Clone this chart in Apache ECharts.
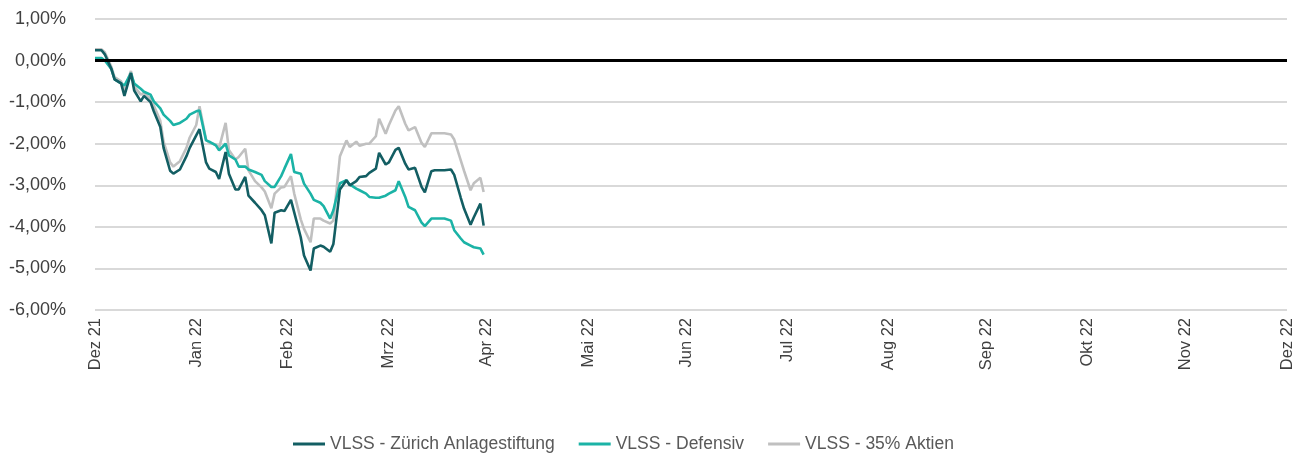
<!DOCTYPE html>
<html>
<head>
<meta charset="utf-8">
<script src="https://cdn.jsdelivr.net/npm/echarts@6/dist/echarts.min.js"></script>
<style>
html, body { margin: 0; padding: 0; background: #fff; }
#chart { width: 1302px; height: 454px; }
</style>
</head>
<body>
<div id="chart"></div>
<script>
// Stichtage
var dates = ['2021-12-31', '2022-01-02', '2022-01-03', '2022-01-05', '2022-01-06', '2022-01-08', '2022-01-09', '2022-01-11', '2022-01-12', '2022-01-14',
    '2022-01-15', '2022-01-17', '2022-01-18', '2022-01-20', '2022-01-21', '2022-01-23', '2022-01-24', '2022-01-26', '2022-01-28', '2022-01-29',
    '2022-01-31', '2022-02-01', '2022-02-03', '2022-02-04', '2022-02-06', '2022-02-07', '2022-02-09', '2022-02-10', '2022-02-12', '2022-02-13',
    '2022-02-15', '2022-02-16', '2022-02-18', '2022-02-20', '2022-02-21', '2022-02-23', '2022-02-24', '2022-02-26', '2022-02-27', '2022-03-01',
    '2022-03-02', '2022-03-04', '2022-03-05', '2022-03-07', '2022-03-08', '2022-03-10', '2022-03-11', '2022-03-13', '2022-03-14', '2022-03-16',
    '2022-03-18', '2022-03-19', '2022-03-21', '2022-03-22', '2022-03-24', '2022-03-25', '2022-03-27', '2022-03-28', '2022-03-30', '2022-03-31',
    '2022-04-02', '2022-04-03', '2022-04-05', '2022-04-06', '2022-04-08', '2022-04-10', '2022-04-11', '2022-04-13', '2022-04-14', '2022-04-16',
    '2022-04-17', '2022-04-19', '2022-04-20', '2022-04-22', '2022-04-23', '2022-04-25', '2022-04-26', '2022-04-28', '2022-04-29'];

var zurich = [0.25, 0.25, 0.15, -0.2, -0.45, -0.55, -0.85, -0.3, -0.72, -0.98,
    -0.85, -1.0, -1.22, -1.6, -2.1, -2.65, -2.72, -2.62, -2.3, -2.1,
    -1.8, -1.65, -2.45, -2.6, -2.68, -2.85, -2.2, -2.72, -3.1, -3.1,
    -2.8, -3.25, -3.42, -3.6, -3.72, -4.4, -3.66, -3.6, -3.62, -3.35,
    -3.65, -4.25, -4.69, -5.05, -4.52, -4.45, -4.48, -4.6, -4.41, -3.1,
    -2.88, -3.0, -2.9, -2.8, -2.78, -2.7, -2.6, -2.22, -2.5, -2.45,
    -2.15, -2.1, -2.48, -2.62, -2.58, -3.04, -3.17, -2.66, -2.64, -2.64,
    -2.64, -2.62, -2.75, -3.3, -3.56, -3.95, -3.77, -3.44, -3.97];

var defensiv = [0.06, 0.06, 0.0, -0.2, -0.45, -0.55, -0.6, -0.3, -0.55, -0.68,
    -0.75, -0.82, -0.98, -1.15, -1.3, -1.45, -1.55, -1.5, -1.4, -1.3,
    -1.22, -1.2, -1.92, -1.95, -2.04, -2.16, -2.0, -2.28, -2.38, -2.55,
    -2.55, -2.62, -2.68, -2.75, -2.9, -3.04, -3.04, -2.78, -2.6, -2.25,
    -2.68, -2.72, -2.96, -3.2, -3.35, -3.42, -3.5, -3.8, -3.6, -2.95,
    -2.88, -2.98, -3.08, -3.12, -3.2, -3.28, -3.3, -3.3, -3.25, -3.2,
    -3.12, -2.9, -3.28, -3.52, -3.6, -3.9, -3.98, -3.8, -3.8, -3.8,
    -3.8, -3.85, -4.08, -4.28, -4.37, -4.45, -4.49, -4.52, -4.67];

var aktien35 = [0.27, 0.27, 0.2, -0.15, -0.4, -0.5, -0.72, -0.25, -0.62, -0.82,
    -0.78, -0.92, -1.08, -1.45, -1.95, -2.45, -2.55, -2.42, -2.1, -1.85,
    -1.55, -1.1, -1.9, -1.98, -2.02, -2.1, -1.5, -2.15, -2.38, -2.32,
    -2.12, -2.64, -2.9, -3.05, -3.15, -3.55, -3.2, -3.05, -3.04, -2.78,
    -3.2, -3.82, -4.05, -4.37, -3.8, -3.8, -3.85, -3.92, -3.85, -2.3,
    -1.92, -2.08, -1.95, -2.05, -2.0, -2.0, -1.82, -1.4, -1.76, -1.55,
    -1.2, -1.1, -1.52, -1.68, -1.6, -1.98, -2.08, -1.75, -1.75, -1.75,
    -1.75, -1.78, -1.9, -2.4, -2.65, -3.12, -2.95, -2.82, -3.16];

var monthEnds = ['2021-12-31', '2022-01-31', '2022-02-28', '2022-03-31', '2022-04-30', '2022-05-31', '2022-06-30',
    '2022-07-31', '2022-08-31', '2022-09-30', '2022-10-31', '2022-11-30', '2022-12-31'];
var monthLabels = ['Dez 21', 'Jan 22', 'Feb 22', 'Mrz 22', 'Apr 22', 'Mai 22', 'Jun 22',
    'Jul 22', 'Aug 22', 'Sep 22', 'Okt 22', 'Nov 22', 'Dez 22'];

var yTicks = [1, 0, -1, -2, -3, -4, -5, -6];

// Tage seit 31.12.2021
function dayNo(d) {
    return Math.round((Date.parse(d) - Date.parse('2021-12-31')) / 86400000);
}
var monthDays = monthEnds.map(dayNo);

function pairs(values) {
    var out = [];
    for (var i = 0; i < dates.length; i++)
        out.push([dayNo(dates[i]), values[i]]);
    return out;
}

var chart = echarts.init(document.getElementById('chart'));
var font = "'Liberation Sans', Arial, sans-serif";

var option = {
    animation: false,
    textStyle: { fontFamily: font },
    grid: { left: 95, right: 15, top: 19, bottom: 144, containLabel: false },
    legend: {
        left: 288,
        top: 430,
        icon: 'rect',
        itemWidth: 32,
        itemHeight: 3,
        itemGap: 24,
        textStyle: { fontSize: 17.5, color: '#595959', fontFamily: font },
        data: ['VLSS - Zürich Anlagestiftung', 'VLSS - Defensiv', 'VLSS - 35% Aktien']
    },
    xAxis: {
        type: 'value',
        min: 0,
        max: monthDays[monthDays.length - 1],
        axisLine: { show: false },
        axisTick: { show: false },
        splitLine: { show: false },
        axisLabel: {
            customValues: monthDays,
            rotate: 90,
            margin: 8,
            fontSize: 16.5,
            color: '#404040',
            fontFamily: font,
            formatter: function (v) {
                var i = monthDays.indexOf(Math.round(v));
                return i >= 0 ? monthLabels[i] : '';
            }
        }
    },
    yAxis: {
        type: 'value',
        min: yTicks[yTicks.length - 1],
        max: yTicks[0],
        interval: 1,
        axisLine: { show: false },
        axisTick: { show: false },
        splitLine: { lineStyle: { color: '#d9d9d9', width: 2 } },
        axisLabel: {
            margin: 29,
            fontSize: 18,
            color: '#404040',
            fontFamily: font,
            formatter: function (v) { return v.toFixed(2).replace('.', ',') + '%'; }
        }
    },
    series: [
        {
            name: 'VLSS - 35% Aktien', type: 'line', data: pairs(aktien35), showSymbol: false,
            lineStyle: { color: '#c0c0c0', width: 2.6 }, itemStyle: { color: '#c0c0c0' }, z: 2
        },
        {
            name: 'VLSS - Defensiv', type: 'line', data: pairs(defensiv), showSymbol: false,
            lineStyle: { color: '#1bb3a6', width: 2.6 }, itemStyle: { color: '#1bb3a6' }, z: 3
        },
        {
            name: 'VLSS - Zürich Anlagestiftung', type: 'line', data: pairs(zurich), showSymbol: false,
            lineStyle: { color: '#135e63', width: 2.6 }, itemStyle: { color: '#135e63' }, z: 4,
            markLine: {
                silent: true, symbol: 'none', label: { show: false },
                lineStyle: { color: '#000', width: 3, type: 'solid' },
                data: [{ yAxis: 0 }]
            }
        }
    ]
};
chart.setOption(option);
</script>
</body>
</html>
